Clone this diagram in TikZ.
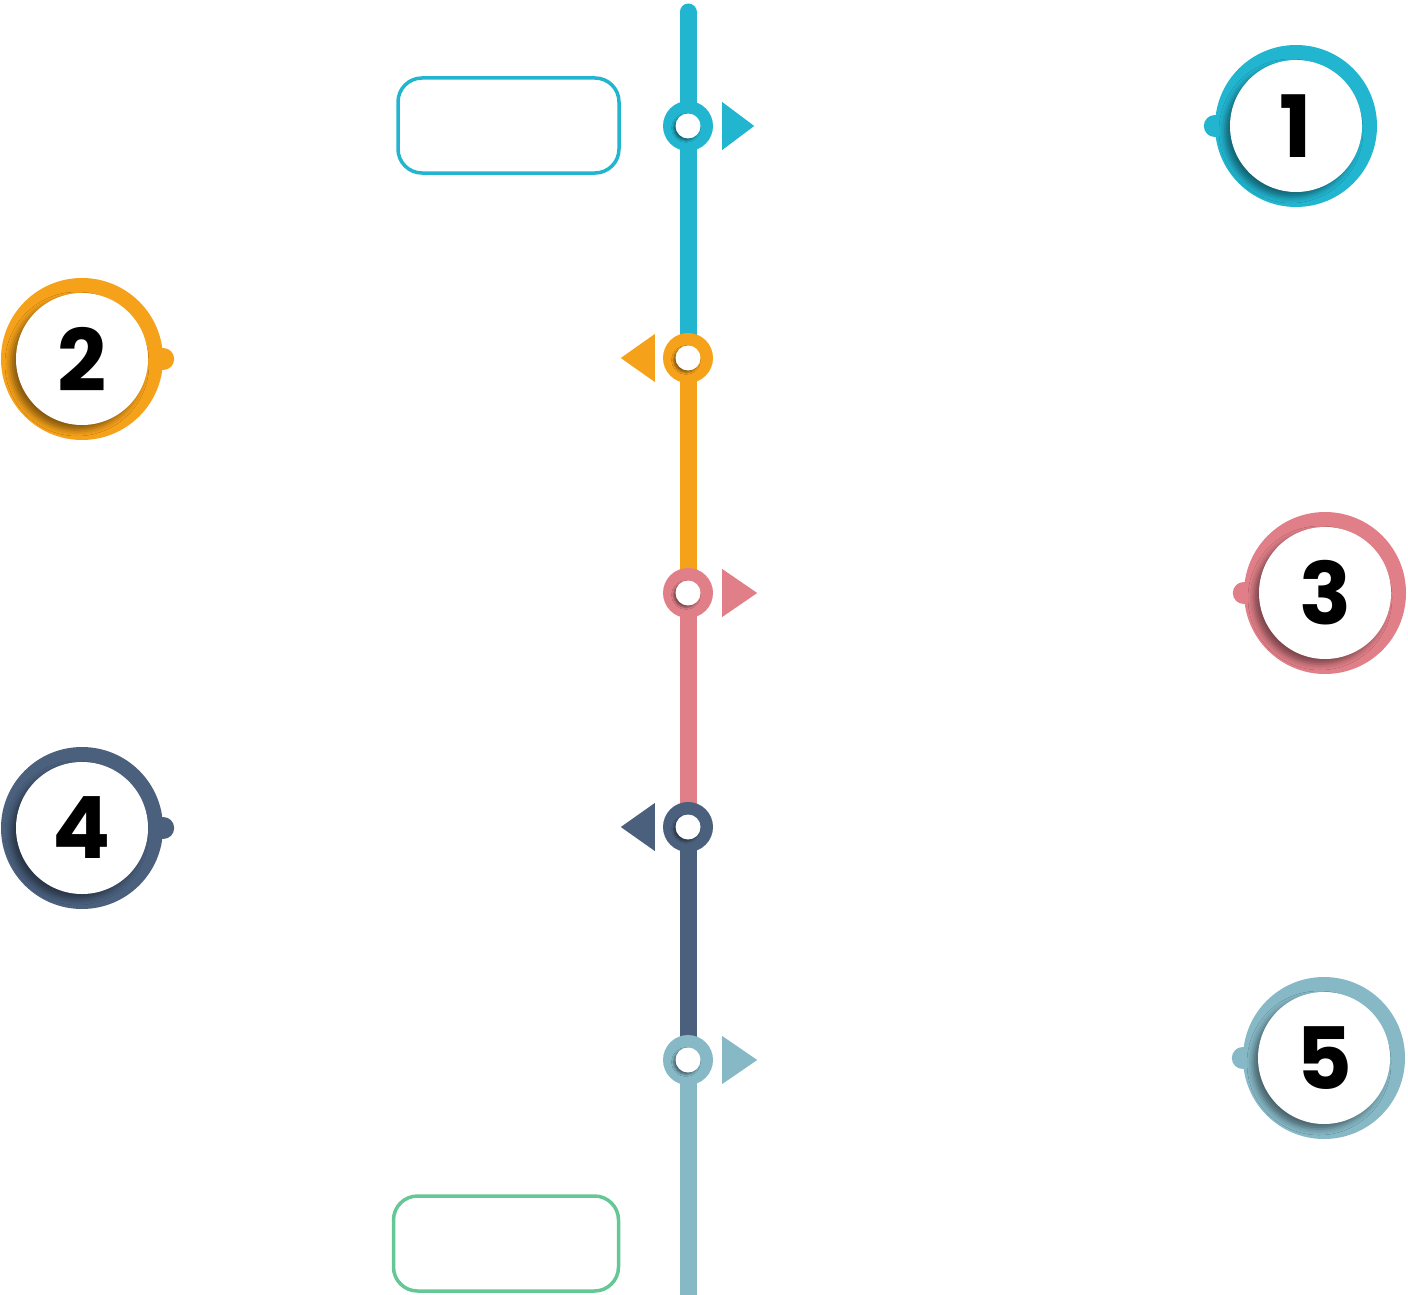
\documentclass[tikz,border=0pt]{standalone}
\usepackage{fontspec}
\usepackage{xcolor}
\usetikzlibrary{calc,shadows.blur}
\newfontfamily\numfont{Poppins}
\definecolor{stepcyan}{HTML}{22B5D0}
\definecolor{steporange}{HTML}{F5A11A}
\definecolor{steppink}{HTML}{E07F88}
\definecolor{stepnavy}{HTML}{4A607D}
\definecolor{stepsky}{HTML}{86B8C6}
\definecolor{stepgreen}{HTML}{66C796}
\tikzset{
	ring/.style={circle, inner sep=0pt, minimum size=162pt, fill=#1},
	disc/.style={circle, inner sep=0pt, minimum size=132pt, fill=white,
			blur shadow={shadow xshift=-5pt, shadow yshift=-5pt, shadow opacity=45, shadow blur radius=6pt},
			font=\numfont\bfseries\fontsize{86}{86}\selectfont},
	dot/.style={circle, inner sep=0pt, minimum size=50pt, fill=#1},
	hole/.style={circle, inner sep=0pt, minimum size=25pt, fill=white,
			blur shadow={shadow xshift=-2pt, shadow yshift=-2pt, shadow opacity=45, shadow blur radius=2pt}},
	textbox/.style={draw=#1, line width=3.5pt, rounded corners=24pt, inner sep=0pt}
}
\begin{document}
\begin{tikzpicture}[x=1pt, y=-1pt]
        \useasboundingbox (0,0) rectangle (1408,1295);
        % timeline
        \coordinate (top) at (688,12);
        \coordinate (bottom) at (688,1300);
        \coordinate (p1) at (688,126);
        \coordinate (p2) at (688,358);
        \coordinate (p3) at (688,593);
        \coordinate (p4) at (688,827);
        \coordinate (p5) at (688,1060);
        \draw[stepcyan, line width=17pt, line cap=round] (top) -- (p2);
        \draw[steporange, line width=17pt] (p2) -- (p3);
        \draw[steppink, line width=17pt] (p3) -- (p4);
        \draw[stepnavy, line width=17pt] (p4) -- (p5);
        \draw[stepsky, line width=17pt] (p5) -- (bottom);
        \node[dot=stepcyan] (t1) at (p1) {};
        \node[dot=steporange] (t2) at (p2) {};
        \node[dot=steppink] (t3) at (p3) {};
        \node[dot=stepnavy] (t4) at (p4) {};
        \node[dot=stepsky] (t5) at (p5) {};
        \node[hole] at (t1) {};
        \node[hole] at (t2) {};
        \node[hole] at (t3) {};
        \node[hole] at (t4) {};
        \node[hole] at (t5) {};
        % pointers
        \fill[stepcyan] ($(t1.east)+(9,-24)$) -- ++(0,48) -- ++(32,-24) -- cycle;
        \fill[steporange] ($(t2.west)+(-8,-24)$) -- ++(0,48) -- ++(-34,-24) -- cycle;
        \fill[steppink] ($(t3.east)+(9,-24)$) -- ++(0,48) -- ++(35,-24) -- cycle;
        \fill[stepnavy] ($(t4.west)+(-8,-24)$) -- ++(0,48) -- ++(-34,-24) -- cycle;
        \fill[stepsky] ($(t5.east)+(9,-24)$) -- ++(0,48) -- ++(35,-24) -- cycle;
        % number badges
        \node[ring=stepcyan] (r1) at (1296,126) {};
        \fill[stepcyan] (r1.west) circle (11);
        \node[disc] (n1) at (r1) {1};
        \node[ring=steporange] (r2) at (82,359) {};
        \fill[steporange] (r2.east) circle (11);
        \node[disc] (n2) at (r2) {2};
        \node[ring=steppink] (r3) at (1325,593) {};
        \fill[steppink] (r3.west) circle (11);
        \node[disc] (n3) at (r3) {3};
        \node[ring=stepnavy] (r4) at (82,828) {};
        \fill[stepnavy] (r4.east) circle (11);
        \node[disc] (n4) at (r4) {4};
        \node[ring=stepsky] (r5) at (1324,1058) {};
        \fill[stepsky] (r5.west) circle (11);
        \node[disc] (n5) at (r5) {5};
        % empty boxes
        \node[textbox=stepcyan, minimum width=221pt, minimum height=95pt] (box1) at (508.5,125.5) {};
        \node[textbox=stepgreen, minimum width=225pt, minimum height=95pt] (box2) at (506,1243.5) {};
    \end{tikzpicture}
\end{document}
